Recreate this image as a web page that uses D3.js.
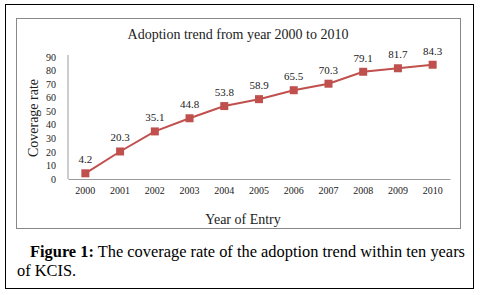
<!DOCTYPE html>
<html>
<head>
<meta charset="utf-8">
<script src="https://cdn.jsdelivr.net/npm/d3@7"></script>
<style>
  body { margin: 0; background: #fff; }
  svg { display: block; font-family: "Liberation Serif", "Times New Roman", serif; }
</style>
</head>
<body>
<div id="chart"></div>
<script>
const years = ["2000", "2001", "2002", "2003", "2004", "2005", "2006", "2007", "2008", "2009", "2010"];
const coverage = [4.2, 20.3, 35.1, 44.8, 53.8, 58.9, 65.5, 70.3, 79.1, 81.7, 84.3];
const yTicks = [0, 10, 20, 30, 40, 50, 60, 70, 80, 90];

const width = 480, height = 295;
const lineColor = "#c0504d";

const svg = d3.select("#chart").append("svg")
  .attr("width", width)
  .attr("height", height);

// outer figure frame
svg.append("rect")
  .attr("x", 5.5).attr("y", 4.5)
  .attr("width", 468).attr("height", 284)
  .attr("fill", "none")
  .attr("stroke", "#000")
  .attr("stroke-width", 1);

// chart area frame
svg.append("rect")
  .attr("x", 16.5).attr("y", 18.5)
  .attr("width", 444).attr("height", 210)
  .attr("fill", "none")
  .attr("stroke", "#888")
  .attr("stroke-width", 1);

const xScale = d3.scaleBand()
  .domain(years)
  .range([68, 450]);

const yScale = d3.scaleLinear()
  .domain([0, 90])
  .range([179, 57]);

// axes
const xAxis = svg.append("g")
  .attr("transform", "translate(0,179)")
  .call(d3.axisBottom(xScale).tickSize(0).tickPadding(8));
xAxis.select(".domain").attr("stroke", "#999");
xAxis.selectAll("text")
  .style("font-family", "Liberation Serif, serif")
  .style("font-size", "10px")
  .attr("fill", "#222");

const yAxis = svg.append("g")
  .attr("transform", "translate(68,0)")
  .call(d3.axisLeft(yScale).tickValues(yTicks).tickSize(0).tickPadding(12));
yAxis.select(".domain").attr("stroke", "#999").attr("d", "M0,55V179");
yAxis.selectAll("text")
  .style("font-family", "Liberation Serif, serif")
  .style("font-size", "10px")
  .attr("fill", "#222");

// line
const line = d3.line()
  .x((d, i) => xScale(years[i]) + xScale.bandwidth() / 2)
  .y(d => yScale(d));

svg.append("path")
  .datum(coverage)
  .attr("d", line)
  .attr("fill", "none")
  .attr("stroke", lineColor)
  .attr("stroke-width", 2);

const ms = 8;
svg.selectAll("rect.marker")
  .data(coverage)
  .enter().append("rect")
  .attr("class", "marker")
  .attr("x", (d, i) => xScale(years[i]) + xScale.bandwidth() / 2 - ms / 2)
  .attr("y", d => yScale(d) - ms / 2)
  .attr("width", ms)
  .attr("height", ms)
  .attr("fill", lineColor);

svg.selectAll("text.label")
  .data(coverage)
  .enter().append("text")
  .attr("class", "label")
  .attr("x", (d, i) => xScale(years[i]) + xScale.bandwidth() / 2)
  .attr("y", d => yScale(d) - 10)
  .attr("text-anchor", "middle")
  .style("font-size", "11px")
  .attr("fill", "#222")
  .text(d => d);

// title
svg.append("text")
  .attr("x", 238).attr("y", 39)
  .attr("text-anchor", "middle")
  .style("font-size", "14px")
  .attr("fill", "#222")
  .text("Adoption trend from year 2000 to 2010");

// axis labels
svg.append("text")
  .attr("transform", "translate(38,118) rotate(-90)")
  .attr("text-anchor", "middle")
  .style("font-size", "14px")
  .attr("fill", "#222")
  .text("Coverage rate");

svg.append("text")
  .attr("x", 243).attr("y", 224)
  .attr("text-anchor", "middle")
  .style("font-size", "14px")
  .attr("fill", "#222")
  .text("Year of Entry");

// caption
const cap = svg.append("text")
  .attr("x", 30).attr("y", 257)
  .style("font-size", "16.4px")
  .attr("fill", "#000");
cap.append("tspan").style("font-weight", "bold").text("Figure 1:");
cap.append("tspan").text(" The coverage rate of the adoption trend within ten years");

svg.append("text")
  .attr("x", 17).attr("y", 276)
  .style("font-size", "16.4px")
  .attr("fill", "#000")
  .text("of KCIS.");
</script>
</body>
</html>
